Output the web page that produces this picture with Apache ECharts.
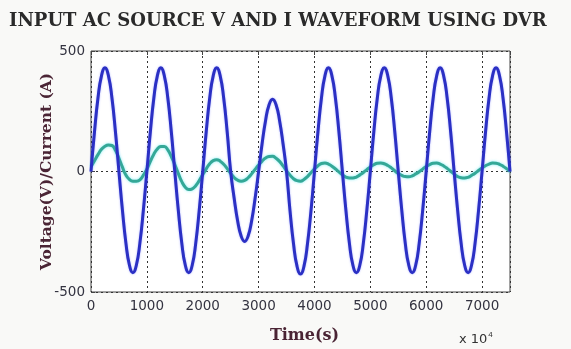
<!DOCTYPE html>
<html>
<head>
<meta charset="utf-8">
<script src="https://cdn.jsdelivr.net/npm/echarts@6/dist/echarts.min.js"></script>
<style>
  html, body { margin: 0; padding: 0; background: #f9f9f7; }
  #chart { width: 571px; height: 349px; }
</style>
</head>
<body>
<div id="chart"></div>
<script>
// sample times (x 10^-4 s)
var times = [0, 62.5, 125, 187.5, 250, 312.5, 375, 437.5, 500, 562.5, 625, 687.5, 750, 812.5, 875, 937.5,
    1000, 1062.5, 1125, 1187.5, 1250, 1312.5, 1375, 1437.5, 1500, 1562.5, 1625, 1687.5, 1750, 1812.5, 1875, 1937.5,
    2000, 2062.5, 2125, 2187.5, 2250, 2312.5, 2375, 2437.5, 2500, 2562.5, 2625, 2687.5, 2750, 2812.5, 2875, 2937.5,
    3000, 3062.5, 3125, 3187.5, 3250, 3312.5, 3375, 3437.5, 3500, 3562.5, 3625, 3687.5, 3750, 3812.5, 3875, 3937.5,
    4000, 4062.5, 4125, 4187.5, 4250, 4312.5, 4375, 4437.5, 4500, 4562.5, 4625, 4687.5, 4750, 4812.5, 4875, 4937.5,
    5000, 5062.5, 5125, 5187.5, 5250, 5312.5, 5375, 5437.5, 5500, 5562.5, 5625, 5687.5, 5750, 5812.5, 5875, 5937.5,
    6000, 6062.5, 6125, 6187.5, 6250, 6312.5, 6375, 6437.5, 6500, 6562.5, 6625, 6687.5, 6750, 6812.5, 6875, 6937.5,
    7000, 7062.5, 7125, 7187.5, 7250, 7312.5, 7375, 7437.5, 7500];

// source voltage, sag around 2500-3500
var voltage = [0, 165, 305, 397, 430, 397, 305, 165, 0, -160, -297, -388, -420, -388, -297, -160,
    0, 165, 305, 397, 430, 397, 305, 165, 0, -160, -297, -388, -420, -388, -297, -160,
    0, 165, 305, 397, 430, 397, 305, 165, 0, -111, -205, -268, -290, -268, -205, -111,
    0, 115, 212, 277, 300, 277, 212, 115, 0, -163, -300, -393, -425, -393, -300, -163,
    0, 165, 305, 397, 430, 397, 305, 165, 0, -160, -297, -388, -420, -388, -297, -160,
    0, 165, 305, 397, 430, 397, 305, 165, 0, -160, -297, -388, -420, -388, -297, -160,
    0, 165, 305, 397, 430, 397, 305, 165, 0, -160, -297, -388, -420, -388, -297, -160,
    0, 165, 305, 397, 430, 397, 305, 165, 0];

// source current
var current = [20, 45, 70, 92, 105, 110, 108, 88, 55, 18, -15, -33, -40, -40, -35, -15,
    10, 42, 72, 93, 104, 104, 90, 62, 29, -8, -42, -65, -75, -72, -59, -38,
    -13, 11, 32, 45, 49, 43, 30, 12, -8, -25, -36, -40, -37, -26, -10, 9,
    27, 43, 56, 62, 63, 55, 42, 23, 3, -15, -30, -38, -40, -33, -21, -5,
    11, 24, 33, 35, 31, 22, 11, -2, -14, -23, -27, -27, -23, -14, -4, 8,
    19, 28, 34, 35, 32, 25, 15, 3, -8, -16, -21, -22, -18, -10, -1, 10,
    21, 29, 34, 35, 31, 23, 13, 1, -11, -21, -26, -27, -24, -16, -7, 4,
    15, 24, 31, 35, 34, 30, 22, 12, 0];

var xTicks = [0, 7500, 1000];
var yTicks = [-500, 500, 500];

function pairs(vals) {
    return times.map(function (t, i) { return [t, vals[i]]; });
}

var myChart = echarts.init(document.getElementById('chart'));
var serif = 'DejaVu Serif';
var option = {
    backgroundColor: '#f9f9f7',
    animation: false,
    title: {
        text: 'INPUT AC SOURCE V AND I WAVEFORM USING DVR',
        left: 4,
        top: 7,
        textStyle: { fontFamily: serif, fontWeight: 'bold', fontSize: 18, color: '#2a2a2a' }
    },
    graphic: [{
        type: 'text',
        left: 459,
        top: 331,
        style: {
            text: 'x 10{s|4}',
            fontFamily: 'DejaVu Sans',
            fontSize: 13,
            fill: '#333',
            rich: { s: { fontSize: 8, verticalAlign: 'top', padding: [0, 0, 9, 1] } }
        }
    }],
    grid: {
        left: 91, right: 61, top: 51, bottom: 56,
        show: true, backgroundColor: '#ffffff', borderColor: '#444', borderWidth: 1
    },
    xAxis: [{
        type: 'value',
        min: xTicks[0], max: xTicks[1], interval: xTicks[2],
        name: 'Time(s)',
        nameLocation: 'middle',
        nameGap: 36,
        nameTextStyle: { fontFamily: serif, fontWeight: 'bold', fontSize: 16, color: '#4a2434', padding: [0, 0, 0, 8] },
        axisLine: { show: false },
        axisTick: { inside: true, length: 4, lineStyle: { color: '#444' } },
        axisLabel: {
            showMaxLabel: false, margin: 7, fontFamily: 'DejaVu Sans', fontSize: 13.5, color: '#333340',
            formatter: function (v) { return String(v); }
        },
        splitLine: { show: true, lineStyle: { color: '#333', type: [2, 3], width: 1 } }
    }, {
        type: 'value',
        position: 'top',
        min: xTicks[0], max: xTicks[1], interval: xTicks[2],
        axisLine: { show: false },
        axisTick: { inside: true, length: 4, lineStyle: { color: '#444' } },
        axisLabel: { show: false },
        splitLine: { show: false }
    }],
    yAxis: {
        type: 'value',
        min: yTicks[0], max: yTicks[1], interval: yTicks[2],
        name: 'Voltage(V)/Current (A)',
        nameLocation: 'middle',
        nameGap: 36,
        nameMoveOverlap: false,
        nameTextStyle: { fontFamily: serif, fontWeight: 'bold', fontSize: 15.5, color: '#4a2434' },
        axisLine: { show: false },
        axisTick: { inside: true, length: 4, lineStyle: { color: '#444' } },
        axisLabel: {
            margin: 6, fontFamily: 'DejaVu Sans', fontSize: 13.5, color: '#333340',
            formatter: function (v) { return String(v); }
        },
        splitLine: { show: true, lineStyle: { color: '#333', type: [2, 3], width: 1 } }
    },
    series: [{
        name: 'Current',
        type: 'line',
        data: pairs(current),
        smooth: true,
        showSymbol: false,
        lineStyle: { color: '#34a897', width: 3, shadowColor: 'rgba(80,230,240,0.7)', shadowBlur: 3 }
    }, {
        name: 'Voltage',
        type: 'line',
        data: pairs(voltage),
        smooth: true,
        showSymbol: false,
        lineStyle: { color: '#2b30c4', width: 3, shadowColor: 'rgba(90,100,255,0.5)', shadowBlur: 2 }
    }]
};
myChart.setOption(option);
</script>
</body>
</html>
